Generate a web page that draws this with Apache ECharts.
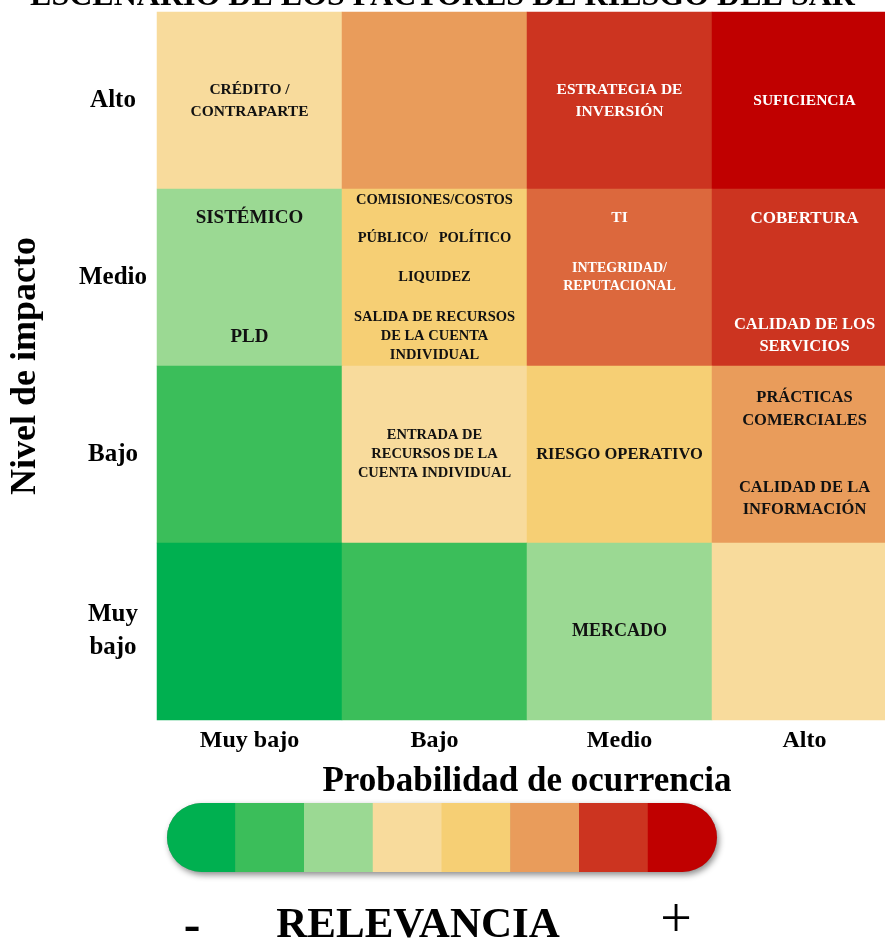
<!DOCTYPE html>
<html>
<head>
<meta charset="utf-8">
<script src="https://cdn.jsdelivr.net/npm/echarts@6/dist/echarts.min.js"></script>
<style>html,body{margin:0;padding:0;background:#fff}#c{width:885px;height:943px}</style>
</head>
<body>
<div id="c"></div>
<script>
// ---------- data ----------
const titleText = 'ESCENARIO DE LOS FACTORES DE RIESGO DEL SAR';
const probabilityCats = ['Muy bajo', 'Bajo', 'Medio', 'Alto'];          // x axis
const impactCats = ['Muy\nbajo', 'Bajo', 'Medio', 'Alto'];              // y axis (bottom→top)
const xAxisTitle = 'Probabilidad de ocurrencia';
const yAxisTitle = 'Nivel de impacto';
const legendTitle = 'RELEVANCIA';
// relevance level per cell, rows listed from top (Alto) to bottom (Muy bajo)
const levelAlto    = [4, 6, 7, 8];
const levelMedio   = [3, 5, 9, 7];
const levelBajo    = [2, 4, 5, 6];
const levelMuyBajo = [1, 2, 3, 4];
// colour for each relevance level (1..8 scale, 9 = intermediate)
const levelColors = ['#00B050', '#3BBE5A', '#9BD993', '#F8DB9C', '#F6CF74', '#E99C5B', '#CC3420', '#C00000', '#DC683D'];
const scaleLevels = [1, 2, 3, 4, 5, 6, 7, 8];
// risk factor labels: [probability index, impact index, text]
const riskLabels = [
  [0, 3, 'CRÉDITO /\nCONTRAPARTE'],
  [2, 3, 'ESTRATEGIA DE\nINVERSIÓN'],
  [3, 3, 'SUFICIENCIA'],
  [0, 2, 'SISTÉMICO'],
  [0, 2, 'PLD'],
  [1, 2, 'COMISIONES/COSTOS'],
  [1, 2, 'PÚBLICO/   POLÍTICO'],
  [1, 2, 'LIQUIDEZ'],
  [1, 2, 'SALIDA DE RECURSOS\nDE LA CUENTA\nINDIVIDUAL'],
  [2, 2, 'TI'],
  [2, 2, 'INTEGRIDAD/\nREPUTACIONAL'],
  [3, 2, 'COBERTURA'],
  [3, 2, 'CALIDAD DE LOS\nSERVICIOS'],
  [1, 1, 'ENTRADA DE\nRECURSOS DE LA\nCUENTA INDIVIDUAL'],
  [2, 1, 'RIESGO OPERATIVO'],
  [3, 1, 'PRÁCTICAS\nCOMERCIALES'],
  [3, 1, 'CALIDAD DE LA\nINFORMACIÓN'],
  [2, 0, 'MERCADO']
];
// ---------- layout / style for labels (offset as fraction of cell height) ----------
const labelStyle = [
  {dy: 0,     size: 15.5, lh: 22, light: false},
  {dy: 0,     size: 15.5, lh: 22, light: true},
  {dy: 0,     size: 15.5, lh: 22, light: true},
  {dy: -0.335,size: 19,   lh: 22, light: false},
  {dy: 0.335, size: 19,   lh: 22, light: false},
  {dy: -0.435,size: 14.5, lh: 19, light: false},
  {dy: -0.22, size: 14.5, lh: 19, light: false},
  {dy: 0,     size: 14.5, lh: 19, light: false},
  {dy: 0.333, size: 14.5, lh: 19, light: false},
  {dy: -0.335,size: 15.5, lh: 22, light: true},
  {dy: 0,     size: 14,   lh: 18, light: true},
  {dy: -0.335,size: 17,   lh: 22, light: true},
  {dy: 0.33,  size: 16.5, lh: 22, light: true},
  {dy: 0,     size: 14.5, lh: 19, light: false},
  {dy: 0,     size: 16.5, lh: 22, light: false},
  {dy: -0.255,size: 16.5, lh: 23, light: false},
  {dy: 0.25,  size: 16.5, lh: 22, light: false},
  {dy: 0,     size: 18,   lh: 22, light: false}
];

const FONT = '"Liberation Serif", "DejaVu Serif", serif';
const rowsTopDown = [levelAlto, levelMedio, levelBajo, levelMuyBajo];
const heatData = [];
rowsTopDown.forEach((row, r) => {
  const yi = impactCats.length - 1 - r;
  row.forEach((lv, xi) => heatData.push([xi, yi, lv]));
});

const chart = echarts.init(document.getElementById('c'), null, {renderer: 'canvas'});

// legend pill (decorative colour scale)
const pillLeft = 167, pillTop = 803, pillW = 550, pillH = 69, segW = pillW / scaleLevels.length;
const pillChildren = [{
  type: 'rect', shape: {x: 0, y: 0, width: pillW, height: pillH, r: pillH / 2},
  style: {fill: '#888', shadowBlur: 6, shadowOffsetX: 2, shadowOffsetY: 3, shadowColor: 'rgba(0,0,0,0.45)'}
}];
scaleLevels.forEach((lv, i) => {
  let r = 0;
  if (i === 0) r = [pillH / 2, 0, 0, pillH / 2];
  else if (i === scaleLevels.length - 1) r = [0, pillH / 2, pillH / 2, 0];
  pillChildren.push({
    type: 'rect', shape: {x: i * segW - (i ? 0.5 : 0), y: 0, width: segW + (i ? 0.5 : 0), height: pillH, r: r},
    style: {fill: levelColors[lv - 1]}
  });
});

chart.setOption({
  animation: false,
  backgroundColor: '#fff',
  title: {
    text: titleText, left: 'center', top: -24,
    textStyle: {fontFamily: FONT, fontSize: 32, fontWeight: 'bold', color: '#000'}
  },
  grid: {left: 157, right: -12, top: 12, bottom: 223, containLabel: false, outerBoundsMode: 'none'},
  xAxis: {
    type: 'category', data: probabilityCats, position: 'bottom',
    axisLine: {show: false}, axisTick: {show: false}, splitLine: {show: false},
    axisLabel: {fontFamily: FONT, fontSize: 24, fontWeight: 'bold', color: '#000', margin: 9},
    name: xAxisTitle, nameLocation: 'middle', nameGap: 44,
    nameTextStyle: {fontFamily: FONT, fontSize: 35, fontWeight: 'bold', color: '#000'}
  },
  yAxis: {
    type: 'category', data: impactCats,
    axisLine: {show: false}, axisTick: {show: false}, splitLine: {show: false},
    axisLabel: {fontFamily: FONT, fontSize: 25, fontWeight: 'bold', color: '#000', margin: 44, align: 'center', lineHeight: 33},
    name: yAxisTitle, nameLocation: 'middle', nameGap: 113, nameRotate: 90,
    nameTextStyle: {fontFamily: FONT, fontSize: 36, fontWeight: 'bold', color: '#000'}
  },
  visualMap: {
    show: false, type: 'piecewise', dimension: 2,
    pieces: levelColors.map((c, i) => ({value: i + 1, color: c}))
  },
  series: [
    {
      type: 'heatmap', data: heatData, itemStyle: {borderWidth: 0}, emphasis: {disabled: true}
    },
    {
      type: 'custom', data: riskLabels.map(d => [d[0], d[1]]), z: 5, silent: true,
      renderItem: function (params, api) {
        const c = api.coord([api.value(0), api.value(1)]);
        const s = api.size([1, 1]);
        const i = params.dataIndex;
        const st = labelStyle[i];
        return {
          type: 'text', x: c[0], y: c[1] + st.dy * s[1],
          style: {
            text: riskLabels[i][2], fill: st.light ? '#ffffff' : '#111111',
            font: 'bold ' + st.size + 'px ' + FONT, align: 'center', verticalAlign: 'middle', lineHeight: st.lh
          }
        };
      }
    }
  ],
  graphic: [
    {type: 'group', left: pillLeft, top: pillTop, children: pillChildren},
    {type: 'text', x: 192, y: 928, style: {text: '-', font: 'bold 50px ' + FONT, fill: '#000', align: 'center', verticalAlign: 'middle'}},
    {type: 'text', x: 418, y: 926, style: {text: legendTitle, font: 'bold 43px ' + FONT, fill: '#000', align: 'center', verticalAlign: 'middle'}},
    {type: 'text', x: 676, y: 922, style: {text: '+', font: '56px ' + FONT, fill: '#000', align: 'center', verticalAlign: 'middle'}}
  ]
});
</script>
</body>
</html>
